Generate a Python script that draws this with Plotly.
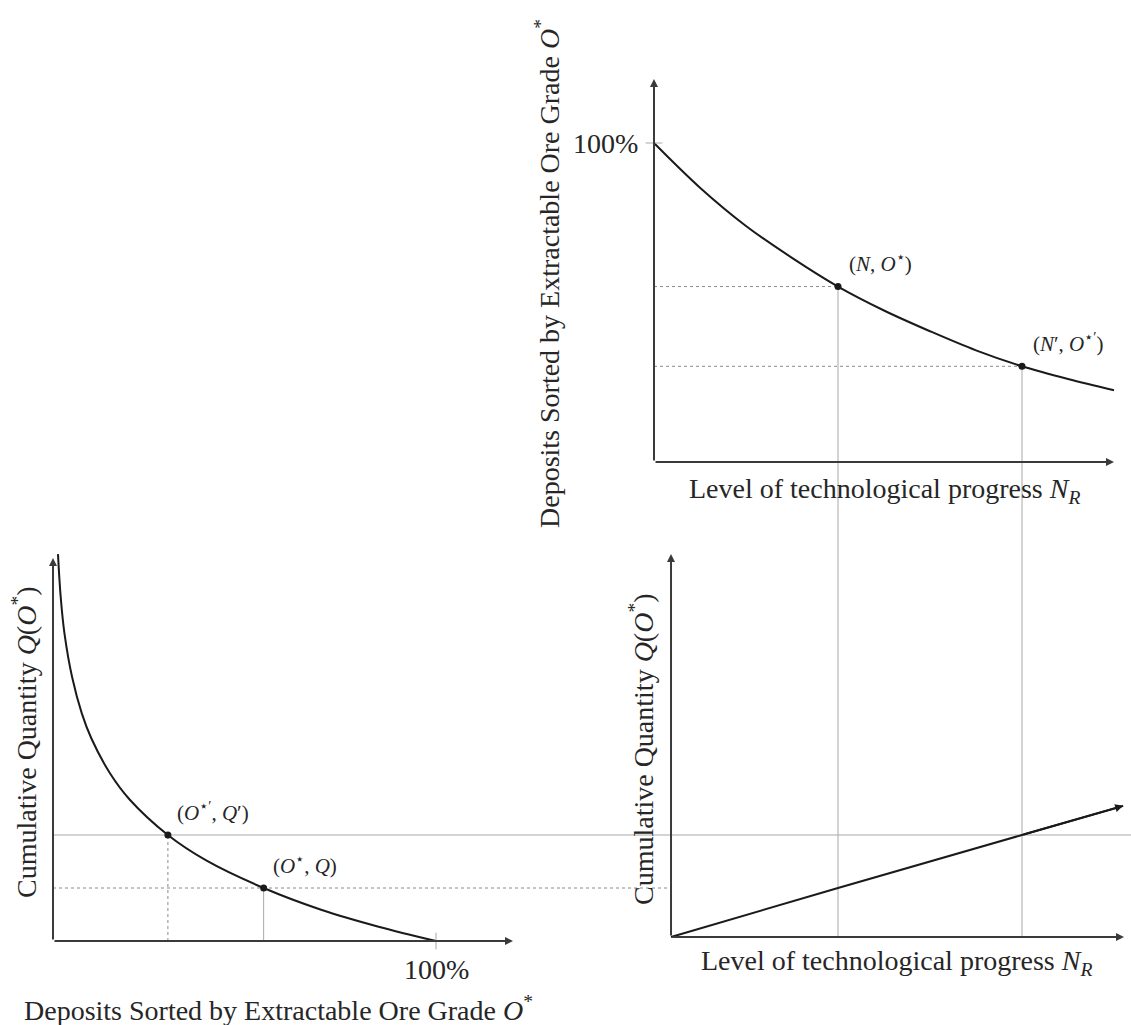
import plotly.graph_objects as go

# ---------------------------------------------------------------------------
# Data
# ---------------------------------------------------------------------------
# Top panel: extractable ore-grade threshold O* (%) vs. technological progress N_R
tech_level = [0, 1, 2, 3, 4, 5, 6, 7, 8, 9, 10]
ore_grade_threshold = [100, 86, 74, 64, 55, 47.5, 41, 35, 30, 26, 22.5]

# Bottom-left panel: cumulative quantity Q(O*) vs. ore grade of sorted deposits (%)
deposit_grade = [1.3, 2, 3, 5, 7.5, 10, 15, 20, 30, 40, 55, 70, 85, 100]
cumulative_qty = [14.6, 13.0, 11.6, 9.95, 8.6, 7.65, 6.3, 5.34, 4.0, 3.04, 2.0, 1.18, 0.54, 0]

# Bottom-right panel: cumulative quantity vs. technological progress
tech_line_n = [0.37, 4, 8, 10.2]
tech_line_q = [0.15, 2, 4, 5.1]

# The two highlighted states: (N, O*, Q) and (N', O*', Q')
state_n = [4, 8]
state_grade = [55, 30]
state_q = [2, 4]
top_point_labels = ["(<i>N</i>, <i>O</i><sup>⋆</sup>)",
                    "(<i>N</i>′, <i>O</i><sup>⋆′</sup>)"]
bl_point_labels = ["(<i>O</i><sup>⋆</sup>, <i>Q</i>)",
                   "(<i>O</i><sup>⋆′</sup>, <i>Q</i>′)"]
full_grade_label = "100%"

# ---------------------------------------------------------------------------
# Layout geometry
# ---------------------------------------------------------------------------
W, H = 1131, 1025
SPLIT_X = 560          # pixel column dividing left / right panels
SPLIT_Y = 540          # pixel row dividing top / bottom panels

# pixel scales (origin pixel, pixels per unit)
N_ORIGIN_PX, N_PX = 654, 46.0         # tech level (shared by top & bottom-right)
G_ORIGIN_PX, G_PX = 462, 3.19         # ore grade, top panel (vertical)
BG_ORIGIN_PX, BG_PX = 53, 3.83        # ore grade, bottom-left (horizontal)
Q_ORIGIN_PX, Q_PX = 941, 26.5         # cumulative quantity (shared by bottom panels)


def hrange(p0, p1, origin, scale):
    return [(p0 - origin) / scale, (p1 - origin) / scale]


def vrange(p_bottom, p_top, origin, scale):
    return [(origin - p_bottom) / scale, (origin - p_top) / scale]


INK = "#1a1a1a"
TEXT = "#262626"
AXIS = "#3a3a3a"
GUIDE = "#a8a8a8"
DOT = "#8a8a8a"
FONT = "Liberation Serif"

# bottom-right axes cross slightly off the shared origin
BR_N0, BR_Q0 = 0.37, 0.15

fig = go.Figure()


def line(x, y, xa, ya, color=GUIDE, width=1, dash=None, shape="linear"):
    fig.add_trace(go.Scatter(
        x=x, y=y, xaxis=xa, yaxis=ya, mode="lines",
        line=dict(color=color, width=width, dash=dash, shape=shape),
        hoverinfo="skip", showlegend=False))


# ---- guide lines -----------------------------------------------------------
n, n2 = state_n
g, g2 = state_grade
q, q2 = state_q

# top panel: dotted horizontals to the curve, solid verticals down the page
line([0, n], [g, g], "x2", "y2", color=DOT, dash="dot")
line([0, n2], [g2, g2], "x2", "y2", color=DOT, dash="dot")
line([n, n], [g, -200], "x2", "y2")
line([n2, n2], [g2, -200], "x2", "y2")

# bottom-right panel continuation of the verticals
line([n, n], [100, BR_Q0], "x3", "y3")
line([n2, n2], [100, BR_Q0], "x3", "y3")

# bottom-left panel
line([0, 500], [q2, q2], "x", "y")                      # Q' solid, runs across
line([0, 500], [q, q], "x", "y", color=DOT, dash="dot")  # Q dotted
line([g2, g2], [0, q2], "x", "y", color=DOT, dash="dot")
line([g, g], [0, q], "x", "y")

# bottom-right continuation of the horizontals
line([-50, 50], [q2, q2], "x3", "y3")
line([-50, BR_N0], [q, q], "x3", "y3", color=DOT, dash="dot")

# ---- curves ----------------------------------------------------------------
line(tech_level, ore_grade_threshold, "x2", "y2", color=INK, width=2, shape="spline")
line(deposit_grade, cumulative_qty, "x", "y", color=INK, width=2, shape="spline")
line(tech_line_n, tech_line_q, "x3", "y3", color=INK, width=2)

# ---- 100% ticks ------------------------------------------------------------
fig.add_trace(go.Scatter(x=[0], y=[100], xaxis="x2", yaxis="y2", mode="markers",
                         marker=dict(symbol="line-ew", size=12,
                                     line=dict(color=GUIDE, width=1)),
                         hoverinfo="skip", showlegend=False))
fig.add_trace(go.Scatter(x=[100], y=[0], xaxis="x", yaxis="y", mode="markers",
                         marker=dict(symbol="line-ns", size=12,
                                     line=dict(color=GUIDE, width=1)),
                         hoverinfo="skip", showlegend=False))

# ---- highlighted points ----------------------------------------------------
fig.add_trace(go.Scatter(x=state_n, y=state_grade, xaxis="x2", yaxis="y2",
                         mode="markers", marker=dict(color=INK, size=7),
                         hoverinfo="skip", showlegend=False))
fig.add_trace(go.Scatter(x=state_grade, y=state_q, xaxis="x", yaxis="y",
                         mode="markers", marker=dict(color=INK, size=7),
                         hoverinfo="skip", showlegend=False))

annotations = []


def arrow(x0, y0, x1, y1, xa, ya, color=AXIS, width=2):
    annotations.append(dict(
        x=x1, y=y1, ax=x0, ay=y0, xref=xa, yref=ya, axref=xa, ayref=ya,
        showarrow=True, arrowhead=2, arrowsize=0.8, arrowwidth=width,
        arrowcolor=color, standoff=0, startstandoff=0, text=""))


# axes with arrowheads
arrow(0, 0, (1114 - N_ORIGIN_PX) / N_PX, 0, "x2", "y2")
arrow(0, 0, 0, (G_ORIGIN_PX - 79) / G_PX, "x2", "y2")
arrow(0, 0, (513 - BG_ORIGIN_PX) / BG_PX, 0, "x", "y")
arrow(0, 0, 0, (Q_ORIGIN_PX - 558) / Q_PX, "x", "y")
arrow(BR_N0, BR_Q0, (1124 - N_ORIGIN_PX) / N_PX, BR_Q0, "x3", "y3")
arrow(BR_N0, BR_Q0, BR_N0, (Q_ORIGIN_PX - 554) / Q_PX, "x3", "y3")
# arrowhead on the bottom-right line
arrow(tech_line_n[-2], tech_line_q[-2], tech_line_n[-1], tech_line_q[-1],
      "x3", "y3", color=INK)

# point labels
label_font = dict(family=FONT, size=21, color=TEXT)
for xv, yv, txt in zip(state_n, state_grade, top_point_labels):
    annotations.append(dict(x=xv, y=yv, xref="x2", yref="y2", text=txt,
                            showarrow=False, xanchor="left", yanchor="middle",
                            xshift=9, yshift=24, font=label_font))
for xv, yv, txt in zip(state_grade, state_q, bl_point_labels):
    annotations.append(dict(x=xv, y=yv, xref="x", yref="y", text=txt,
                            showarrow=False, xanchor="left", yanchor="middle",
                            xshift=7, yshift=24, font=label_font))

# 100% labels
big_font = dict(family=FONT, size=28, color=TEXT)
annotations.append(dict(x=0, y=100, xref="x2", yref="y2", text=full_grade_label,
                        showarrow=False, xanchor="right", yanchor="middle",
                        xshift=-14, font=big_font))
annotations.append(dict(x=100, y=0, xref="x", yref="y", text=full_grade_label,
                        showarrow=False, xanchor="center", yanchor="top",
                        yshift=-11, font=big_font))

# axis titles
title_font = dict(family=FONT, size=28, color=TEXT)
grade_title = "Deposits Sorted by Extractable Ore Grade <i>O</i><sup>*</sup>"
tech_title = "Level of technological progress <i>N</i><sub><i>R</i></sub>"
qty_title = "Cumulative Quantity <i>Q</i>(<i>O</i><sup>*</sup>)"


def title(text, px, py, angle=0):
    annotations.append(dict(x=px / W, y=1 - py / H, xref="paper", yref="paper",
                            text=text, showarrow=False, textangle=angle,
                            xanchor="center", yanchor="middle", font=title_font))


title(grade_title, 547, 274, -90)
title(tech_title, 884, 490)
title(qty_title, 24, 742, -90)
title(grade_title, 278, 1008)
title(qty_title, 641, 749, -90)
title(tech_title, 896, 962)

hidden = dict(visible=False, showgrid=False, zeroline=False, fixedrange=True)
fig.update_layout(
    width=W, height=H,
    margin=dict(l=0, r=0, t=0, b=0),
    paper_bgcolor="white", plot_bgcolor="rgba(0,0,0,0)",
    showlegend=False,
    annotations=annotations,
    xaxis=dict(hidden, domain=[0, SPLIT_X / W],
               range=hrange(0, SPLIT_X, BG_ORIGIN_PX, BG_PX), anchor="y"),
    yaxis=dict(hidden, domain=[0, 1 - SPLIT_Y / H],
               range=vrange(H, SPLIT_Y, Q_ORIGIN_PX, Q_PX), anchor="x"),
    xaxis2=dict(hidden, domain=[SPLIT_X / W, 1],
                range=hrange(SPLIT_X, W, N_ORIGIN_PX, N_PX), anchor="y2"),
    yaxis2=dict(hidden, domain=[1 - SPLIT_Y / H, 1],
                range=vrange(SPLIT_Y, 0, G_ORIGIN_PX, G_PX), anchor="x2"),
    xaxis3=dict(hidden, domain=[SPLIT_X / W, 1],
                range=hrange(SPLIT_X, W, N_ORIGIN_PX, N_PX), anchor="y3"),
    yaxis3=dict(hidden, domain=[0, 1 - SPLIT_Y / H],
                range=vrange(H, SPLIT_Y, Q_ORIGIN_PX, Q_PX), anchor="x3"),
)

fig.write_html("out.html", config={"displayModeBar": False})
